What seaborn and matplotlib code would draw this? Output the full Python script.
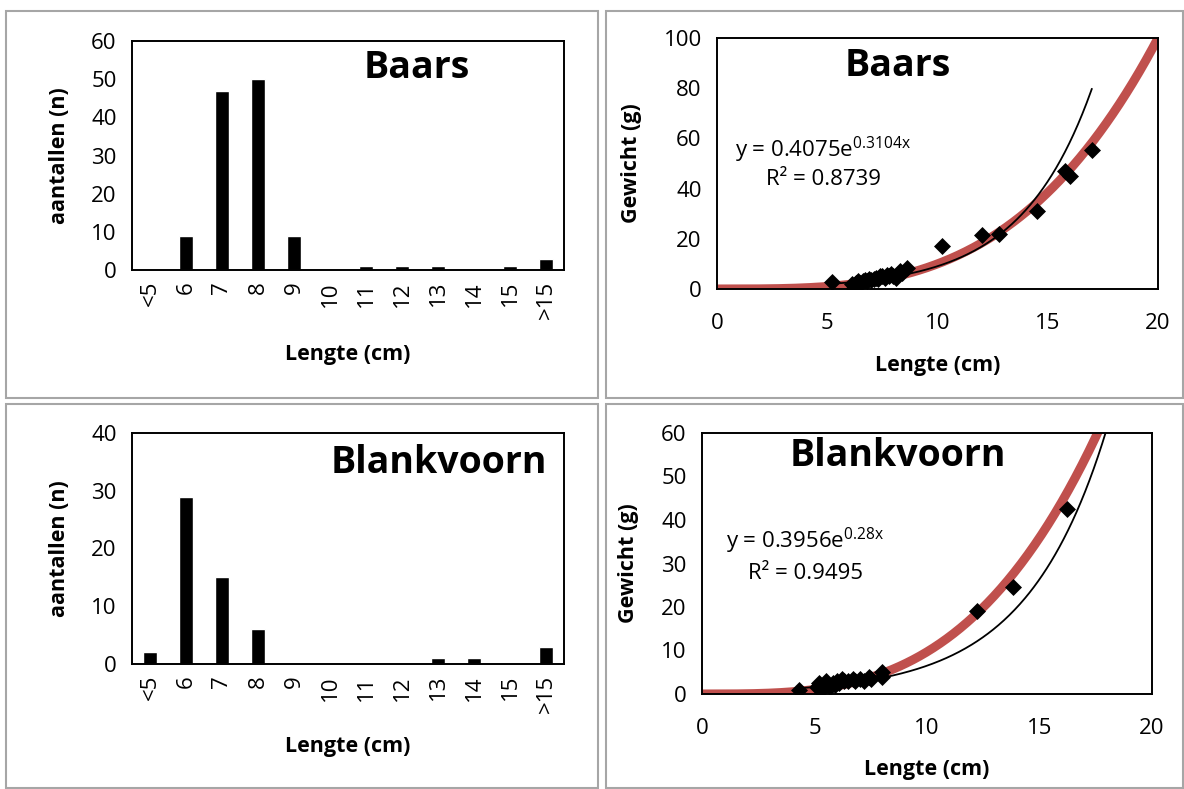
import numpy as np
import pandas as pd
import matplotlib
matplotlib.use("Agg")
import matplotlib.pyplot as plt
from matplotlib.patches import Rectangle
import seaborn as sns

# ---------------- data ----------------
length_classes = ["<5", "6", "7", "8", "9", "10", "11", "12", "13", "14", "15", ">15"]
baars_counts = [0, 9, 47, 50, 9, 0, 1, 1, 1, 0, 1, 3]
blank_counts = [2, 29, 15, 6, 0, 0, 0, 0, 1, 1, 0, 3]

baars_len = [5.2, 6.1, 6.2, 6.3, 6.4, 6.5, 6.6, 6.7, 6.8, 6.9, 7.0, 7.1, 7.2, 7.3, 7.4,
             7.5, 7.6, 7.7, 7.8, 7.9, 8.0, 8.1, 8.2, 8.3, 8.4, 8.6, 10.2, 12.0, 12.8,
             14.5, 15.8, 16.0, 17.0]
baars_wt = [2.8, 2.0, 0.5, 2.5, 3.0, 2.5, 3.0, 3.5, 3.0, 4.0, 3.5, 4.0, 4.5, 4.0, 5.0,
            5.0, 4.5, 5.5, 5.0, 6.0, 5.0, 4.5, 6.0, 7.0, 6.5, 8.5, 17.0, 21.5, 22.0,
            31.0, 47.0, 45.0, 55.5]

blank_len = [4.3, 5.1, 5.2, 5.3, 5.4, 5.5, 5.6, 5.7, 5.8, 5.9, 6.0, 6.1, 6.2, 6.3, 6.5,
             6.7, 6.8, 7.0, 7.2, 7.4, 7.5, 8.0, 8.0, 12.2, 13.8, 16.2]
blank_wt = [1.0, 1.5, 2.5, 1.0, 2.0, 3.0, 2.0, 1.5, 2.5, 2.0, 3.0, 2.5, 3.5, 3.0, 3.0,
            3.5, 3.0, 3.5, 3.0, 4.0, 3.5, 5.0, 4.0, 19.0, 24.5, 42.5]

# exponential trendlines (Excel) and reference length-weight curves (power)
baars_exp = (0.4075, 0.3104, 0.8739)
blank_exp = (0.3956, 0.28, 0.9495)
baars_pow = (0.00479, 3.32)
blank_pow = (0.00571, 3.23)

# ---------------- style ----------------
sns.set_theme(style="white")
FONT = "Open Sans"
plt.rcParams["font.family"] = [FONT, "DejaVu Sans"]
plt.rcParams["mathtext.fontset"] = "custom"
plt.rcParams["mathtext.rm"] = FONT
plt.rcParams["mathtext.it"] = FONT + ":italic"
plt.rcParams["mathtext.bf"] = FONT + ":bold"
for key in ["text.color", "axes.labelcolor", "xtick.color", "ytick.color",
            "axes.edgecolor"]:
    plt.rcParams[key] = "black"

RED = "#C0504D"
W, H = 1184, 789
TICK_FS = 16
LAB_FS = 15.5
TITLE_FS = 27
EQ_FS = 16

fig = plt.figure(figsize=(W / 100, H / 100), dpi=100)
fig.patch.set_facecolor("white")

def frac(x0, y_top, x1, y_bot):
    return [x0 / W, (H - y_bot) / H, (x1 - x0) / W, (y_bot - y_top) / H]

# panel borders
for (x0, y0, x1, y1) in [(6, 11, 598, 398), (606, 11, 1183, 398),
                         (6, 404, 598, 788), (606, 404, 1183, 788)]:
    fig.patches.append(Rectangle((x0 / W, (H - y1) / H), (x1 - x0) / W, (y1 - y0) / H,
                                 transform=fig.transFigure, fill=False,
                                 edgecolor="#A6A6A6", linewidth=1.5))

def style_axes(ax):
    for s in ax.spines.values():
        s.set_visible(True)
        s.set_color("black")
        s.set_linewidth(1.4)
    ax.tick_params(axis="both", which="both", direction="out", color="black",
                   labelsize=TICK_FS, labelcolor="black")
    ax.tick_params(axis="y", length=7, width=1.3, pad=4)

def bar_panel(rect, counts, ymax, title, title_pos, xlab_y, ylab_x):
    ax = fig.add_axes(rect)
    df = pd.DataFrame({"klasse": length_classes, "n": counts})
    sns.barplot(data=df, x="klasse", y="n", order=length_classes, color="black",
                width=0.38, ax=ax, saturation=1)
    ax.set_xlim(-0.5, len(length_classes) - 0.5)
    ax.set_ylim(0, ymax)
    ax.set_yticks(np.arange(0, ymax + 1, 10))
    style_axes(ax)
    ax.set_xticks(np.arange(len(length_classes)))
    ax.set_xticklabels(length_classes, rotation=90, fontsize=TICK_FS)
    ax.set_xticks(np.arange(-0.5, len(length_classes)), minor=True)
    ax.tick_params(axis="x", which="major", length=0, pad=8)
    ax.tick_params(axis="x", which="minor", length=8, width=1.3)
    ax.set_xlabel("Lengte (cm)", fontsize=LAB_FS, fontweight="bold", va="center",
                  color="black")
    ax.set_ylabel("aantallen (n)", fontsize=LAB_FS, fontweight="bold", va="center",
                  color="black")
    ax.xaxis.set_label_coords(0.5, xlab_y)
    ax.yaxis.set_label_coords(ylab_x, 0.5)
    ax.text(title_pos[0], title_pos[1], title, transform=ax.transAxes, color="black",
            fontsize=TITLE_FS, fontweight="bold", ha="center", va="center")
    return ax

def scatter_panel(rect, L, Wt, expfit, powfit, ymax, ystep, exp_range, title,
                  title_pos, eq_pos, r2_pos, eq_txt, xlab_y, ylab_x):
    ax = fig.add_axes(rect)
    xr = np.linspace(0, 20, 400)
    ref = pd.DataFrame({"L": xr, "W": powfit[0] * xr ** powfit[1]})
    sns.lineplot(data=ref, x="L", y="W", color=RED, linewidth=6.5, ax=ax,
                 solid_capstyle="butt")
    xe = np.linspace(exp_range[0], exp_range[1], 300)
    tr = pd.DataFrame({"L": xe, "W": expfit[0] * np.exp(expfit[1] * xe)})
    sns.lineplot(data=tr, x="L", y="W", color="black", linewidth=1.3, ax=ax)
    pts = pd.DataFrame({"L": L, "W": Wt})
    sns.scatterplot(data=pts, x="L", y="W", marker="D", color="black", s=75,
                    edgecolor="black", linewidth=0, ax=ax, zorder=5)
    ax.set_xlim(0, 20)
    ax.set_ylim(0, ymax)
    ax.set_xticks([0, 5, 10, 15, 20])
    ax.set_yticks(np.arange(0, ymax + 1, ystep))
    style_axes(ax)
    ax.tick_params(axis="x", length=7, width=1.3, pad=10)
    ax.set_xlabel("Lengte (cm)", fontsize=LAB_FS, fontweight="bold", va="center",
                  color="black")
    ax.set_ylabel("Gewicht (g)", fontsize=LAB_FS, fontweight="bold", va="center",
                  color="black")
    ax.xaxis.set_label_coords(0.5, xlab_y)
    ax.yaxis.set_label_coords(ylab_x, 0.5)
    ax.text(title_pos[0], title_pos[1], title, transform=ax.transAxes, color="black",
            fontsize=TITLE_FS, fontweight="bold", ha="center", va="center")
    ax.text(eq_pos[0], eq_pos[1], eq_txt, fontsize=EQ_FS, ha="left", va="center",
            color="black")
    ax.text(r2_pos[0], r2_pos[1], "R² = %.4f" % expfit[2], fontsize=EQ_FS,
            ha="left", va="center", color="black")
    return ax

bar_panel(frac(132, 41, 564, 270), baars_counts, 60, "Baars", (0.66, 0.88),
          -0.367, -0.167)
bar_panel(frac(132, 433, 564, 664), blank_counts, 40, "Blankvoorn", (0.71, 0.87),
          -0.355, -0.167)

scatter_panel(frac(717, 38, 1158, 289), baars_len, baars_wt, baars_exp, baars_pow,
              100, 20, (5.2, 17.0), "Baars", (0.41, 0.89), (0.8, 55.5), (2.2, 43.5),
              r"y = 0.4075e$^{\mathrm{0.3104x}}$", -0.303, -0.195)
scatter_panel(frac(702, 433, 1152, 694), blank_len, blank_wt, blank_exp, blank_pow,
              60, 10, (4.3, 18.5), "Blankvoorn", (0.435, 0.91), (1.05, 35.3), (2.05, 27.8),
              r"y = 0.3956e$^{\mathrm{0.28x}}$", -0.291, -0.164)

fig.savefig("out.png", dpi=100, facecolor="white")
